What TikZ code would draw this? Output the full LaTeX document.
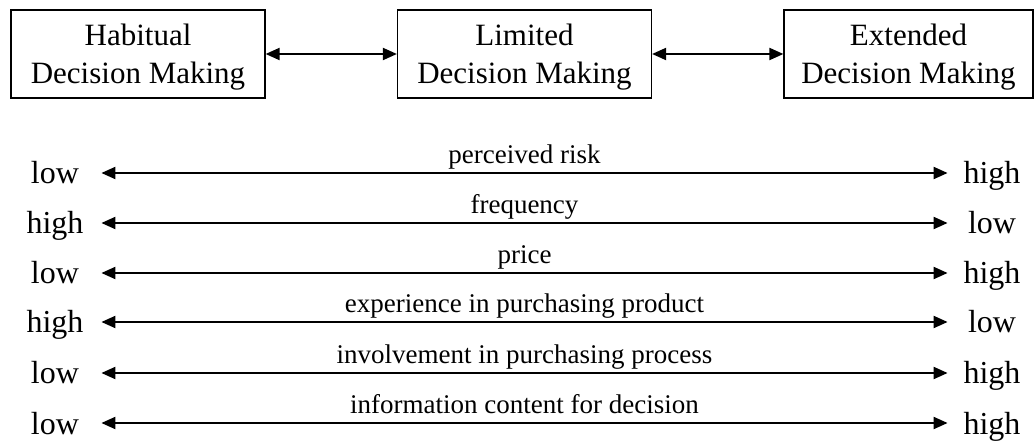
\documentclass[tikz,border=0pt]{standalone}
\usepackage{fontspec}
\setmainfont{Liberation Serif}
\usetikzlibrary{arrows.meta}

\begin{document}
\begin{tikzpicture}[x=0.5pt,y=-0.5pt,
  box/.style={draw,line width=0.6pt,minimum width=127pt,minimum height=44pt,inner sep=0pt,text depth=0.5pt,align=center,font=\fontsize{15.5}{19}\selectfont},
  lend/.style={inner sep=0pt,minimum width=46pt,text height=11pt,text depth=0pt,font=\fontsize{16}{19}\selectfont},
  rend/.style={lend,minimum width=44pt},
  dim/.style={{Triangle[length=7pt,width=6pt]}-{Triangle[length=7pt,width=6pt]},line width=1pt},
  what/.style={above,inner sep=0pt,text depth=0pt,yshift=4.3pt,font=\fontsize{13.5}{16}\selectfont}
]
\useasboundingbox (0,0) rectangle (1034,443);
\node[box] (habit) at (138,54) {Habitual\\Decision Making};
\node[box] (limit) at (524.5,54) {Limited\\Decision Making};
\node[box,minimum width=124.5pt] (extend) at (908.5,54) {Extended\\Decision Making};
\draw[dim] (habit) -- (limit);
\draw[dim] (limit) -- (extend);

\node[lend] (l1) at (55,173) {low};
\node[rend] (r1) at (992,173) {high};
\node[lend] (l2) at (55,223) {high};
\node[rend] (r2) at (992,223) {low};
\node[lend] (l3) at (55,273) {low};
\node[rend] (r3) at (992,273) {high};
\node[lend] (l4) at (55,322) {high};
\node[rend] (r4) at (992,322) {low};
\node[lend] (l5) at (55,373) {low};
\node[rend] (r5) at (992,373) {high};
\node[lend] (l6) at (55,423) {low};
\node[rend] (r6) at (992,423) {high};

\draw[dim] (l1) -- node[what]{perceived risk} (r1);
\draw[dim] (l2) -- node[what]{frequency} (r2);
\draw[dim] (l3) -- node[what]{price} (r3);
\draw[dim] (l4) -- node[what]{experience in purchasing product} (r4);
\draw[dim] (l5) -- node[what]{involvement in purchasing process} (r5);
\draw[dim] (l6) -- node[what]{information content for decision} (r6);
\end{tikzpicture}
\end{document}
